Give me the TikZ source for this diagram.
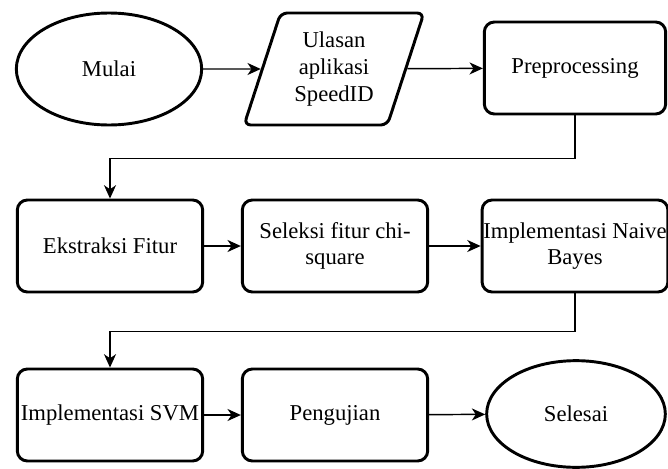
\documentclass[tikz,border=0pt]{standalone}
\usepackage{fontspec}
\setmainfont{Liberation Serif}
\usetikzlibrary{shapes.geometric,arrows.meta}

\begin{document}
\begin{tikzpicture}[x=0.75pt,y=-0.75pt,
    font=\fontsize{17}{20}\selectfont,
    proses/.style={draw=black, line width=2.2pt, rounded corners=7.5pt,
        minimum width=139pt, minimum height=69pt, align=center, inner sep=1pt},
    terminal/.style={ellipse, draw=black, line width=2.2pt,
        minimum width=139pt, minimum height=84pt},
    masukan/.style={trapezium, trapezium left angle=70, trapezium right angle=110,
        trapezium stretches=true, draw=black, line width=2.2pt, rounded corners=5pt,
        minimum width=135pt, minimum height=84pt, align=center},
    panah/.style={-{Stealth[length=10pt,width=9pt,inset=3pt]}, line width=1.1pt}]
    \useasboundingbox (0,0) rectangle (668,468);
    % baris pertama
    \node[terminal] (mulai) at (109,69) {Mulai};
    \node[masukan] (ulasan) at (334,69) {Ulasan\\aplikasi\\SpeedID};
    \node[proses, minimum width=136pt] (prepro) at (575,68) {Preprocessing};
    % baris kedua
    \node[proses] (ekstraksi) at (110,246) {Ekstraksi Fitur};
    \node[proses] (seleksi) at (335,246) {Seleksi fitur chi-\\square};
    \node[proses, minimum width=136pt] (nb) at (575,246) {Implementasi Naive\\Bayes};
    % baris ketiga
    \node[proses] (svm) at (110,415) {Implementasi SVM};
    \node[proses] (uji) at (335,415) {Pengujian};
    \node[terminal, minimum width=134pt, minimum height=80pt] (selesai) at (576,414) {Selesai};

    \draw[panah] (mulai) -- (ulasan);
    \draw[panah] (ulasan) -- (prepro);
    \draw[panah] (prepro.south) -- ++(0,43) -| (ekstraksi.north);
    \draw[panah] (ekstraksi) -- (seleksi);
    \draw[panah] (seleksi) -- (nb);
    \draw[panah] (nb.south) -- ++(0,38) -| (svm.north);
    \draw[panah] (svm) -- (uji);
    \draw[panah] (uji) -- (selesai);
\end{tikzpicture}
\end{document}
